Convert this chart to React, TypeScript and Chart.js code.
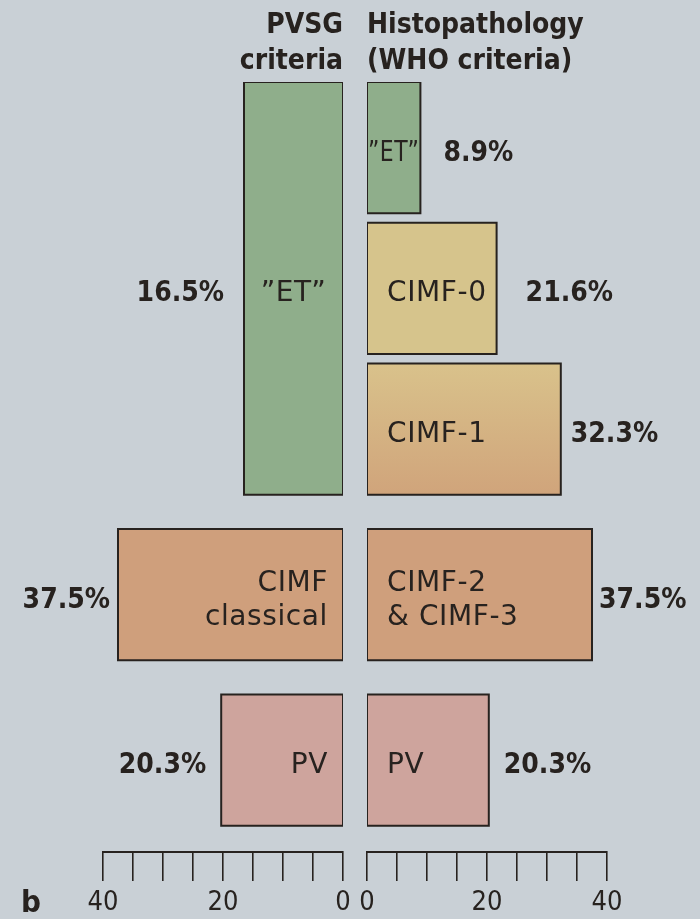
import React, { useEffect, useRef } from 'react';
import { Chart, registerables } from 'chart.js';

Chart.register(...registerables);

// ---------- data ----------
const pvsgCategories = ['\u201DET\u201D', 'CIMF\nclassical', 'PV'];
const pvsgValues = [16.5, 37.5, 20.3];
const whoCategories = ['\u201DET\u201D', 'CIMF-0', 'CIMF-1', 'CIMF-2\n& CIMF-3', 'PV'];
const whoValues = [8.9, 21.6, 32.3, 37.5, 20.3];
// which PVSG class each WHO class belongs to
const whoToPvsg = [0, 0, 0, 1, 2];
const axisLabelTicks = [0, 20, 40];
const leftTitle = ['PVSG', 'criteria'];
const rightTitle = ['Histopathology', '(WHO criteria)'];
const panelLetter = 'b';

// ---------- styles ----------
const BG = '#c9d0d6';
const INK = '#27221f';
const pvsgColors: any[] = ['#8fae8b', '#cf9f7c', '#cea49d'];
const whoColors: any[] = ['#8fae8b', '#d6c48c', ['#d9c28b', '#d0a47b'], '#cf9f7c', '#cea49d'];
const pctGapLeft = [20, 8, 15];
const pctGapRight = [23, 29, 10, 7, 15];
const ROW = 1;
const SMALL_GAP = 0.072;
const GROUP_GAP = 0.26;
const BOTTOM_EXTRA = 0.2;
const AXIS_MAX = 40;
const MINOR_STEP = 5;

const COND = '"DejaVu Sans Condensed", "DejaVu Sans", sans-serif';
const REG = '"DejaVu Sans", sans-serif';

function computeRows() {
  const rows: number[][] = [];
  let y = 0;
  whoCategories.forEach((_, i) => {
    if (i > 0) y += whoToPvsg[i] !== whoToPvsg[i - 1] ? GROUP_GAP : SMALL_GAP;
    rows.push([y, y + ROW]);
    y += ROW;
  });
  const pvsgRows = pvsgCategories.map((_, g) => {
    const idx = whoToPvsg.map((p, i) => (p === g ? i : -1)).filter((i) => i >= 0);
    return [rows[idx[0]][0], rows[idx[idx.length - 1]][1]];
  });
  return { rows, pvsgRows, max: y + BOTTOM_EXTRA };
}

function fillFor(color: any, b: number[]) {
  if (!Array.isArray(color)) return color;
  return (ctx: any) => {
    const chart = ctx.chart;
    const ys = chart.scales && chart.scales.y;
    if (!ys || !chart.chartArea) return color[0];
    const g = chart.ctx.createLinearGradient(0, ys.getPixelForValue(b[0]), 0, ys.getPixelForValue(b[1]));
    g.addColorStop(0, color[0]);
    g.addColorStop(1, color[1]);
    return g;
  };
}

function makeConfig(isLeft: boolean): any {
  const { rows, pvsgRows, max } = computeRows();
  const values = isLeft ? pvsgValues : whoValues;
  const cats = isLeft ? pvsgCategories : whoCategories;
  const bounds = isLeft ? pvsgRows : rows;
  const colors = isLeft ? pvsgColors : whoColors;
  const gaps = isLeft ? pctGapLeft : pctGapRight;

  const datasets = values.map((v, i) => {
    const b = bounds[i];
    return {
      label: cats[i],
      data: [
        { x: 0, y: b[0] },
        { x: v, y: b[0] },
        { x: v, y: b[1] },
        { x: 0, y: b[1] },
        { x: 0, y: b[0] },
      ],
      showLine: true,
      fill: 'shape',
      backgroundColor: fillFor(colors[i], b),
      borderColor: INK,
      borderWidth: 2,
      pointRadius: 0,
      tension: 0,
      borderJoinStyle: 'miter',
      borderCapStyle: 'square',
    };
  });

  const labelPlugin = {
    id: 'barLabels' + (isLeft ? 'L' : 'R'),
    afterDatasetsDraw(chart: any) {
      const { ctx, chartArea } = chart;
      const xs = chart.scales.x;
      const ys = chart.scales.y;
      ctx.save();
      ctx.fillStyle = INK;
      values.forEach((v, i) => {
        const b = bounds[i];
        const y0 = ys.getPixelForValue(b[0]);
        const y1 = ys.getPixelForValue(b[1]);
        const cy = (y0 + y1) / 2 + 3;
        const xi = xs.getPixelForValue(0);
        const xo = xs.getPixelForValue(v);
        const w = Math.abs(xo - xi);
        // category label
        const lines = cats[i].split('\n');
        ctx.font = `28px ${REG}`;
        (ctx as any).letterSpacing = '0.6px';
        ctx.textBaseline = 'alphabetic';
        const lh = 34;
        lines.forEach((ln, k) => {
          const by = cy - ((lines.length - 1) * lh) / 2 + k * lh + 10;
          if (w < 110) {
            ctx.textAlign = 'center';
            ctx.fillText(ln, (xi + xo) / 2, by, w - 2);
          } else if (isLeft) {
            ctx.textAlign = 'right';
            ctx.fillText(ln, xi - 15, by);
          } else {
            ctx.textAlign = 'left';
            ctx.fillText(ln, xi + 20, by);
          }
        });
        // percentage label
        (ctx as any).letterSpacing = '0px';
        ctx.font = `bold 28px ${COND}`;
        const pct = v.toFixed(1) + '%';
        if (isLeft) {
          ctx.textAlign = 'right';
          ctx.fillText(pct, xo - gaps[i], cy + 10);
        } else {
          ctx.textAlign = 'left';
          ctx.fillText(pct, xo + gaps[i], cy + 10);
        }
      });
      // titles
      ctx.font = `bold 28px ${COND}`;
      const title = isLeft ? leftTitle : rightTitle;
      ctx.textAlign = isLeft ? 'right' : 'left';
      const tx = isLeft ? chartArea.right : chartArea.left;
      title.forEach((t, k) => ctx.fillText(t, tx, 33 + k * 36));
      if (isLeft) {
        ctx.font = `bold 31px ${COND}`;
        ctx.textAlign = 'left';
        ctx.fillText(panelLetter, 21, 912);
      }
      ctx.restore();
    },
  };

  return {
    type: 'line',
    data: { datasets },
    options: {
      animation: false,
      responsive: false,
      events: [],
      layout: {
        padding: isLeft
          ? { left: 103, right: 27, top: 82, bottom: 0 }
          : { left: 27, right: 93, top: 82, bottom: 0 },
      },
      plugins: { legend: { display: false }, tooltip: { enabled: false }, title: { display: false } },
      scales: {
        x: {
          type: 'linear',
          position: 'bottom',
          min: 0,
          max: AXIS_MAX,
          reverse: isLeft,
          ticks: {
            stepSize: MINOR_STEP,
            autoSkip: false,
            maxRotation: 0,
            minRotation: 0,
            padding: 8,
            color: INK,
            font: { family: COND, size: 27, lineHeight: 1.0 },
            callback: (v: any) => (axisLabelTicks.includes(Number(v)) ? String(v) : ''),
          },
          grid: { drawOnChartArea: false, drawTicks: true, tickLength: 29, color: INK, lineWidth: 1.6 },
          border: { display: true, color: INK, width: 2 },
        },
        y: { type: 'linear', display: false, min: 0, max, reverse: true },
      },
    },
    plugins: [labelPlugin],
  };
}

export default function App() {
  const leftRef = useRef<HTMLCanvasElement>(null);
  const rightRef = useRef<HTMLCanvasElement>(null);
  useEffect(() => {
    const l = new Chart(leftRef.current as HTMLCanvasElement, makeConfig(true));
    const r = new Chart(rightRef.current as HTMLCanvasElement, makeConfig(false));
    return () => {
      l.destroy();
      r.destroy();
    };
  }, []);
  return (
    <div style={{ position: 'absolute', left: 0, top: 0, width: 700, height: 919, background: BG, overflow: 'hidden' }}>
      <canvas ref={leftRef} width={370} height={924} style={{ position: 'absolute', left: 0, top: 0 }} />
      <canvas ref={rightRef} width={360} height={924} style={{ position: 'absolute', left: 340, top: 0 }} />
    </div>
  );
}
